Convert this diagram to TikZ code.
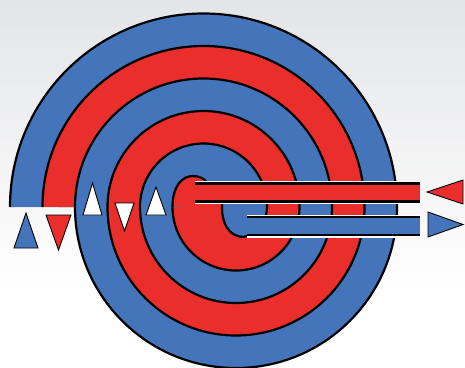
\documentclass[tikz,border=0pt]{standalone}
\usepackage{tikz}
\definecolor{spiralblue}{RGB}{68,117,187}
\definecolor{spiralred}{RGB}{234,46,44}
\definecolor{bggray}{RGB}{228,229,231}

\begin{document}
\begin{tikzpicture}[x=1pt, y=-1pt,
    wall/.style={draw=black, line width=2.2pt},
    channel/.style={draw=spiralred, line width=32.5pt},
    rim/.style={draw=white, line width=1.4pt},
    tip/.style={draw=black, line width=0.9pt, line join=miter}
]
\useasboundingbox (0,0) rectangle (465,367);
\shade[top color=bggray, bottom color=white] (0,0) rectangle (465,290);
\fill[white] (0,290) rectangle (465,367);

% blue channel (whole spiral body)
\fill[spiralblue] (10,207) arc[start angle=180, end angle=0, radius=193.5pt]
    arc[start angle=0, end angle=-180, radius=161pt] -- cycle;

% red channel
\draw[channel] (58.75,207) arc[start angle=180, end angle=0, radius=144.75pt]
    arc[start angle=0, end angle=-180, radius=112.25pt]
    arc[start angle=180, end angle=0, radius=80pt]
    arc[start angle=0, end angle=-180, radius=47.5pt];
\fill[spiralred] (172.5,207) .. controls (172.5,186) and (182,176) .. (193,176)
    .. controls (200,176) and (205,179) .. (208,184) -- (222,184) -- (222,203)
    .. controls (221,222) and (228,237) .. (244,237)
    arc[start angle=-75, end angle=-180, radius=31pt] -- cycle;

% the two spiral sheets
\draw[wall] (10,207) arc[start angle=180, end angle=0, radius=193.5pt]
    arc[start angle=0, end angle=-180, radius=161pt]
    arc[start angle=180, end angle=0, radius=128.5pt]
    arc[start angle=0, end angle=-180, radius=96pt]
    arc[start angle=180, end angle=0, radius=63.5pt]
    arc[start angle=0, end angle=-75, radius=31pt]
    .. controls (228,237) and (221,222) .. (222,203);
\draw[wall] (42.5,207) arc[start angle=180, end angle=0, radius=161pt]
    arc[start angle=0, end angle=-180, radius=128.5pt]
    arc[start angle=180, end angle=0, radius=96pt]
    arc[start angle=0, end angle=-180, radius=63.5pt]
    .. controls (172.5,186) and (182,176) .. (193,176)
    .. controls (200,176) and (205,179) .. (208,184);

% pipes
\fill[spiralred] (195,183.5) rectangle (420,201.5);
\draw[wall] (195,183.5) -- (420,183.5);
\draw[wall] (195,201.5) -- (420,201.5);
\draw[rim] (195,181.7) -- (420,181.7);
\draw[rim] (195,203.3) -- (420,203.3);

\fill[spiralblue] (247,217) rectangle (420,235);
\draw[wall] (247,217) -- (420,217);
\draw[wall] (247,235) -- (420,235);
\draw[rim] (247,215.2) -- (420,215.2);
\draw[rim] (247,236.8) -- (420,236.8);

% flow arrows
\draw[tip, fill=spiralblue] (14,248) -- (38,248) -- (26,213) -- cycle;
\draw[tip, fill=spiralred] (46,215) -- (71,215) -- (58.5,250) -- cycle;
\draw[tip, fill=white] (83,215) -- (102,215) -- (92.5,183) -- cycle;
\draw[tip, fill=white] (115,203) -- (134,203) -- (124.5,231) -- cycle;
\draw[tip, fill=white] (146,215) -- (166,215) -- (156,187) -- cycle;
\draw[tip, fill=spiralred] (463,180) -- (463,204) -- (427,192) -- cycle;
\draw[tip, fill=spiralblue] (428,212) -- (428,237) -- (463,224.5) -- cycle;
\end{tikzpicture}
\end{document}
